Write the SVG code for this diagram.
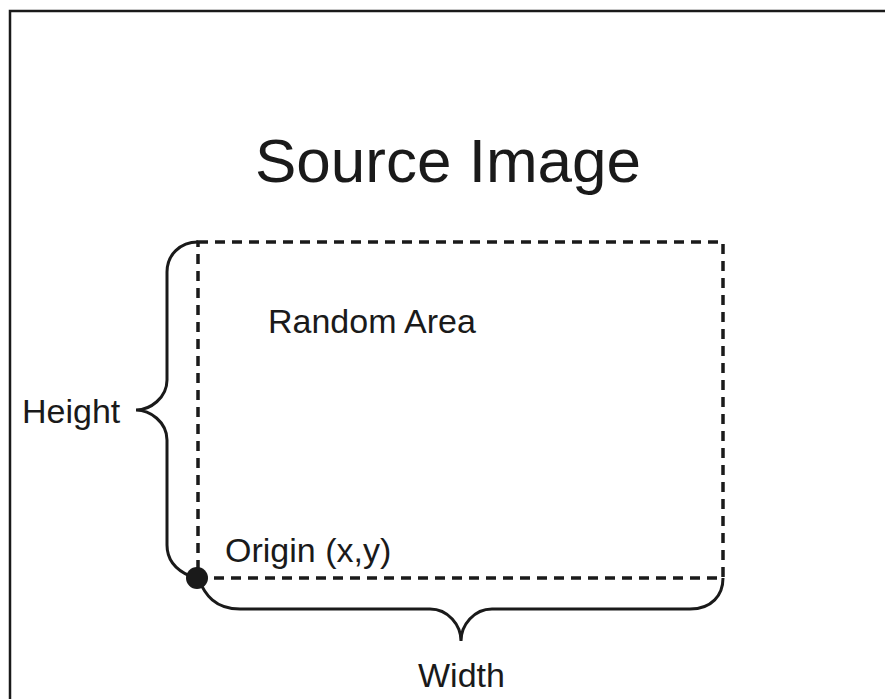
<svg xmlns="http://www.w3.org/2000/svg" width="885" height="699" viewBox="0 0 885 699">
<style>
text{font-family:"Liberation Sans",Arial,sans-serif;fill:#1a1a1a}
.lbl{font-size:34px}
.brace{fill:none;stroke:#1a1a1a;stroke-width:3}
.dash{fill:none;stroke:#1a1a1a;stroke-width:3.5;stroke-dasharray:10 7}
</style>
<rect id="frame" x="10" y="11" width="900" height="720" fill="#fff" stroke="#1a1a1a" stroke-width="2.5"/>
<g id="title"><text x="448" y="182" font-size="62" text-anchor="middle">Source Image</text></g>
<g id="random-area">
<path class="dash" d="M198 242 H723 V578 H198 Z"/>
<text class="lbl" x="268" y="333">Random Area</text>
</g>
<g id="connectors">
<path class="brace" d="M198 242 C180 242 167 255 167 272 V380 C167 398 150 410 136 410 C150 410 167 422 167 440 V545 C167 560 176 570 190 576"/>
<path class="brace" d="M198 578 C205 595 215 609 240 609 H430 C448 609 461 625 461 641 C461 625 474 609 492 609 H690 C712 609 723 595 723 578"/>
</g>
<g id="origin">
<circle cx="197" cy="578" r="11" fill="#1a1a1a"/>
<text class="lbl" x="225" y="562">Origin (x,y)</text>
</g>
<g id="height"><text class="lbl" x="22" y="423">Height</text></g>
<g id="width"><text class="lbl" x="418" y="687">Width</text></g>
</svg>
